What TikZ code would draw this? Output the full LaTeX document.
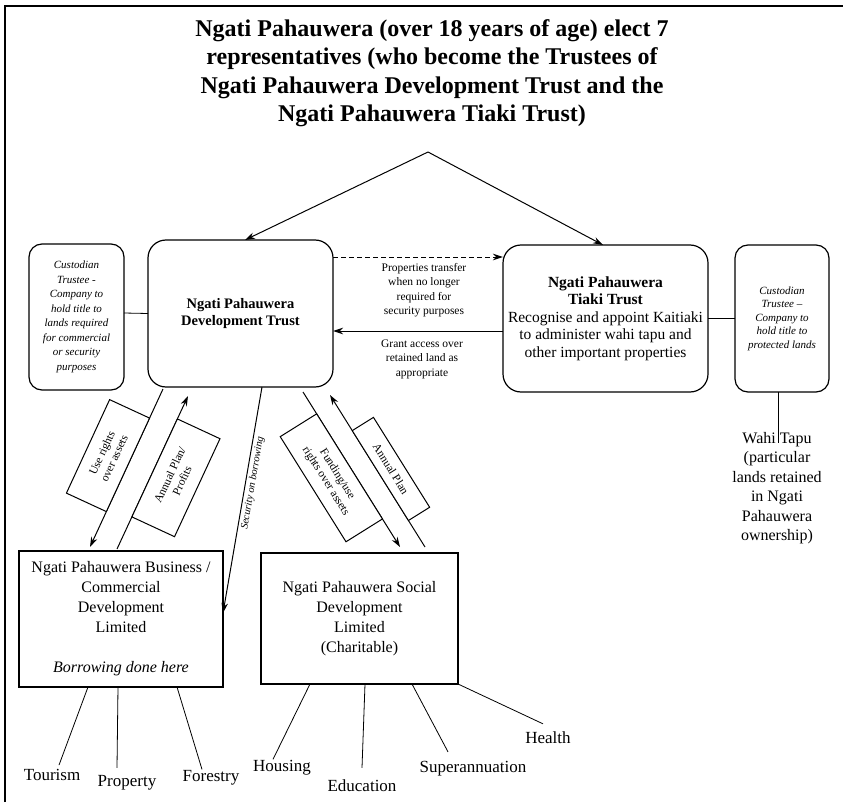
\documentclass[tikz,border=0pt]{standalone}
\usepackage{fontspec}
\setmainfont{Liberation Serif}
\usetikzlibrary{arrows.meta,calc}
\begin{document}
\begin{tikzpicture}[x=1pt,y=-1pt,
  rbox/.style={draw, line width=1.2pt, align=center, inner sep=0pt, outer sep=0pt},
  arr/.style={line width=1pt, -{Stealth[length=10pt,width=6.5pt]}},
  lab/.style={draw, line width=1pt, fill=white, align=center, inner sep=2pt, outer sep=0pt,
    font=\fontsize{11.5}{13.5}\selectfont},
  conn/.style={line width=0.8pt},
  leaf/.style={font=\fontsize{17}{20}\selectfont, inner sep=1pt},
  small/.style={align=center, font=\fontsize{11.5}{14.5}\selectfont},
]
\useasboundingbox (0,0) rectangle (843,805);
% frame
\draw[line width=1.2pt] (5,802) -- (5,6) -- (843,6);

% title
\node[align=center, font=\bfseries\fontsize{24}{28.5}\selectfont] (title) at (432,73)
 {Ngati Pahauwera (over 18 years of age) elect 7\\representatives (who become the Trustees of\\Ngati Pahauwera Development Trust and the\\Ngati Pahauwera Tiaki Trust)};
\coordinate (apex) at (428,152);

% top row boxes
\node[rbox, rounded corners=13pt, minimum width=95pt, minimum height=146pt,
  font=\itshape\fontsize{11}{14.5}\selectfont] (lc) at (76.5,317)
 {Custodian\\Trustee -\\Company to\\hold title to\\lands required\\for commercial\\or security\\purposes};
\node[rbox, rounded corners=18pt, minimum width=185pt, minimum height=147pt,
  font=\bfseries\fontsize{14.5}{17}\selectfont] (dev) at (240.5,313.5)
 {Ngati Pahauwera\\Development Trust};
\node[rbox, rounded corners=18pt, minimum width=205pt, minimum height=147pt,
  font=\fontsize{15.5}{17.5}\selectfont] (tiaki) at (605.5,318.5)
 {\textbf{Ngati Pahauwera}\\\textbf{Tiaki Trust}\\Recognise and appoint Kaitiaki\\to administer wahi tapu and\\other important properties};
\node[rbox, rounded corners=13pt, minimum width=94pt, minimum height=147pt,
  font=\itshape\fontsize{11}{13.5}\selectfont] (rc) at (782,318.5)
 {Custodian\\Trustee –\\Company to\\hold title to\\protected lands};

% wahi tapu
\coordinate (wtend) at (778,443);
\draw[conn] (rc.south -| wtend) -- (wtend);
\node[align=center, font=\fontsize{16}{19.5}\selectfont] (wahi) at (777,488)
 {Wahi Tapu\\(particular\\lands retained\\in Ngati\\Pahauwera\\ownership)};

% connectors top row
\draw[conn] ([yshift=4pt]lc.east) -- (dev.west);
\draw[conn] (tiaki.east) -- (rc.west);
\draw[arr] (apex) -- ([xshift=4.5pt]dev.north);
\draw[arr] (apex) -- ([xshift=-2.5pt]tiaki.north);
\draw[arr, dashed, dash pattern=on 5pt off 3pt] ([yshift=56.5pt]dev.east) -- ([yshift=56.5pt]dev.east -| tiaki.west);
\draw[arr] ([yshift=-17.5pt]dev.east -| tiaki.west) -- ([yshift=-17.5pt]dev.east);
\node[small] (ptxt) at (424,290) {Properties transfer\\when no longer\\required for\\security purposes};
\node[small] (gtxt) at (422,359) {Grant access over\\retained land as\\appropriate};

% lower boxes
\node[rbox, minimum width=204pt, minimum height=136pt, font=\fontsize{16}{20}\selectfont] (biz) at (121,619)
 {Ngati Pahauwera Business /\\Commercial\\Development\\Limited\\[20pt]\textit{Borrowing done here}};
\node[rbox, minimum width=197pt, minimum height=131pt, font=\fontsize{16}{20}\selectfont] (soc) at (359.5,618.5)
 {Ngati Pahauwera Social\\Development\\Limited\\(Charitable)};

% lower arrows with label boxes
\draw[arr] ([xshift=-77.5pt,yshift=-2pt]dev.south) -- ([xshift=-31pt,yshift=4pt]biz.north)
  node[lab, sloped, above, pos=0.48, minimum width=103pt, minimum height=44pt] (ur) {Use rights\\over assets};
\draw[arr] ([xshift=-4pt,yshift=2pt]biz.north) -- ([xshift=-52.5pt,yshift=-9pt]dev.south)
  node[lab, sloped, below, pos=0.53, minimum width=108pt, minimum height=47pt] (ap) {Annual Plan/\\Profits};
\draw[arr] ([xshift=21.5pt]dev.south) -- ([yshift=6pt]biz.east)
  node[sloped, below, pos=0.42, inner sep=2pt, font=\itshape\fontsize{10.5}{12}\selectfont] (sec) {Security on borrowing};
\draw[arr] ([xshift=62.5pt,yshift=-5pt]dev.south) -- ([xshift=40.5pt,yshift=6pt]soc.north)
  node[lab, sloped, below, pos=0.48, minimum width=124pt, minimum height=43pt] (fu) {Funding/use\\rights over assets};
\draw[arr] ([xshift=65.5pt,yshift=6pt]soc.north) -- ([xshift=89.5pt,yshift=-8pt]dev.south)
  node[lab, sloped, above, pos=0.47, minimum width=106pt, minimum height=25pt] (ap2) {Annual Plan};

% leaves
\node[leaf] (tour) at (52,775) {Tourism};
\node[leaf] (prop) at (127,783) {Property};
\node[leaf] (fore) at (211,778) {Forestry};
\node[leaf] (hous) at (282,768) {Housing};
\node[leaf] (educ) at (362,786) {Education};
\node[leaf] (supe) at (473,769) {Superannuation};
\node[leaf] (heal) at (548,738) {Health};
\draw[conn] ([xshift=-33pt]biz.south) -- ([xshift=7pt,yshift=3pt]tour.north);
\draw[conn] ([xshift=-3pt]biz.south) -- ([xshift=-10pt,yshift=6.5pt]prop.north);
\draw[conn] ([xshift=56pt]biz.south) -- ([xshift=-9pt]fore.north);
\draw[conn] ([xshift=-49.5pt]soc.south) -- ([xshift=-9pt]hous.north);
\draw[conn] ([xshift=5.5pt]soc.south) -- ([yshift=11pt]educ.north);
\draw[conn] ([xshift=52.5pt]soc.south) -- ([xshift=-25pt,yshift=8.5pt]supe.north);
\draw[conn] (soc.south east) -- ([xshift=-5pt,yshift=7pt]heal.north);
\end{tikzpicture}
\end{document}
